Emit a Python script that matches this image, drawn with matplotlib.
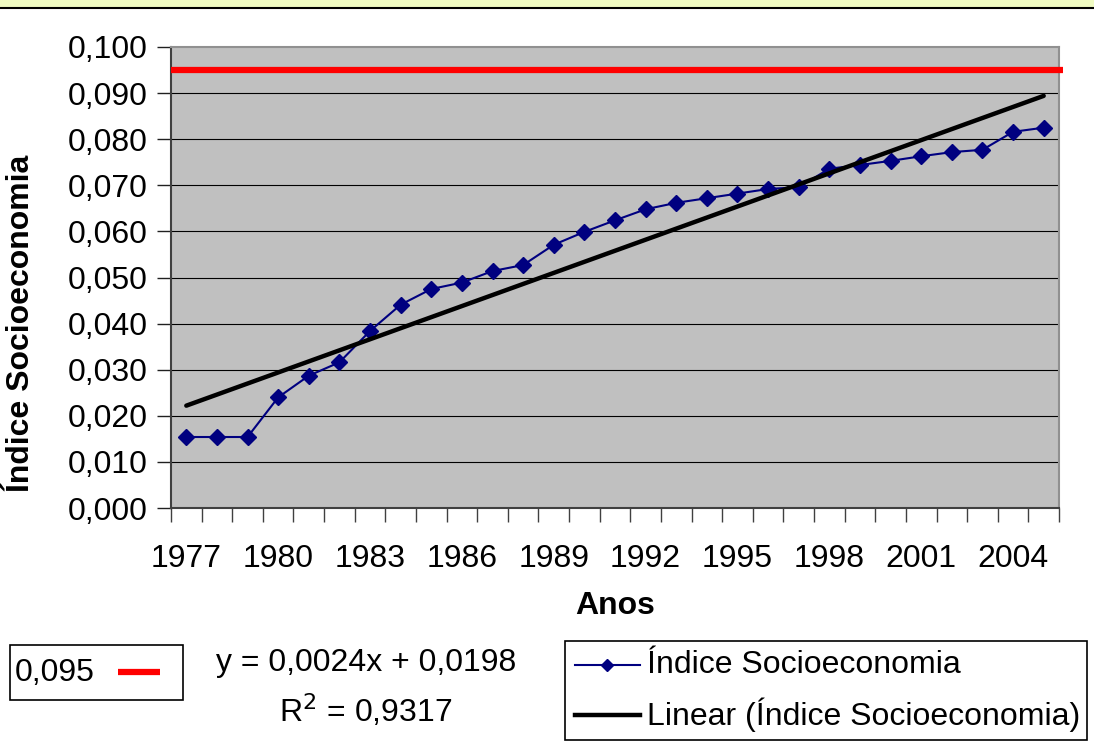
import matplotlib
matplotlib.use("Agg")
import matplotlib.pyplot as plt
import numpy as np
from matplotlib.patches import Rectangle
from matplotlib.lines import Line2D

plt.rcParams['font.family'] = ['Liberation Sans', 'DejaVu Sans']

years = list(range(1977, 2006))
indice = [0.0154, 0.0154, 0.0154, 0.0240, 0.0287, 0.0316, 0.0384, 0.0441,
          0.0475, 0.0489, 0.0514, 0.0527, 0.0571, 0.0599, 0.0624, 0.0648,
          0.0662, 0.0672, 0.0682, 0.0692, 0.0696, 0.0736, 0.0744, 0.0753,
          0.0763, 0.0772, 0.0777, 0.0816, 0.0825]
trend_slope = 0.0024
trend_intercept = 0.0198
r2 = 0.9317
meta = 0.095
yticks = [0.0, 0.01, 0.02, 0.03, 0.04, 0.05, 0.06, 0.07, 0.08, 0.09, 0.10]

FS = 23
W, H = 1094, 746
fig = plt.figure(figsize=(W / 100, H / 100), dpi=100)
fig.patch.set_facecolor('white')

# top yellow band
fig.add_artist(Rectangle((0, 1 - 7.5 / H), 1, 7.5 / H, transform=fig.transFigure,
                         facecolor='#F0FBC2', edgecolor='none'))
fig.add_artist(Line2D([0, 1], [1 - 8 / H, 1 - 8 / H], transform=fig.transFigure,
                      color='black', lw=1.5))

L, R, T, B = 171, 1059, 47, 508
ax = fig.add_axes([L / W, 1 - B / H, (R - L) / W, (B - T) / H])
ax.set_facecolor('#C0C0C0')

n = len(years)
x = np.arange(n)
ax.set_xlim(-0.5, n - 0.5)
ax.set_ylim(0, 0.1)

for yv in yticks[1:-1]:
    ax.axhline(yv, color='black', lw=0.8, zorder=1)

ax.plot(x, indice, color='#000080', lw=1.5, marker='D', markersize=8.5,
        markerfacecolor='#000080', markeredgecolor='#000080', zorder=3)
xi = np.arange(1, n + 1)
ax.plot(x, trend_slope * xi + trend_intercept, color='black', lw=3.2,
        solid_capstyle='round', zorder=4)
ax.axhline(meta, xmin=0, xmax=1.004, color='#FF0000', lw=4.5, clip_on=False,
           solid_capstyle='butt', zorder=5)

ax.set_yticks(yticks)
ax.set_yticklabels([f"{v:.3f}".replace('.', ',') for v in yticks], fontsize=FS)
ax.set_xticks(x[::3])
ax.set_xticklabels([str(years[i]) for i in range(0, n, 3)], fontsize=FS)
ax.tick_params(axis='x', which='major', length=0, pad=26)
ax.set_xticks(np.arange(-0.5, n, 1), minor=True)
ax.tick_params(axis='x', which='minor', length=10, width=1, color='#404040', direction='out')
ax.tick_params(axis='y', length=10, width=1, color='#202020', direction='out', pad=7)

for s in ['top', 'right']:
    ax.spines[s].set_color('#909090')
    ax.spines[s].set_linewidth(1.5)
for s in ['left', 'bottom']:
    ax.spines[s].set_color('#404040')
    ax.spines[s].set_linewidth(1.5)

ax.set_xlabel('Anos', fontsize=FS, fontweight='bold', labelpad=12)
ax.set_ylabel('Índice Socioeconomia', fontsize=23, fontweight='bold')
ax.yaxis.set_label_coords(-(L - 36) / (R - L), (B - (152 + 495) / 2) / (B - T))

def fx(px):
    return px / W

def fy(py):
    return 1 - py / H

# bottom box with 0,095
fig.add_artist(Rectangle((fx(10), fy(700)), fx(183) - fx(10), fy(645) - fy(700),
                         transform=fig.transFigure, facecolor='white', edgecolor='black', lw=1.2))
fig.text(fx(15), fy(673), f"{meta:.3f}".replace('.', ','), fontsize=FS, va='center', ha='left')
fig.add_artist(Line2D([fx(118), fx(160)], [fy(672), fy(672)], transform=fig.transFigure,
                      color='#FF0000', lw=4.5, solid_capstyle='butt'))

# equation
fig.text(fx(366), fy(663), f"y = {trend_slope:.4f}x + {trend_intercept:.4f}".replace('.', ','),
         fontsize=FS, ha='center', va='center')
fig.text(fx(366), fy(711), "R$^2$ = " + f"{r2:.4f}".replace('.', ','),
         fontsize=FS, ha='center', va='center')

# legend box
fig.add_artist(Rectangle((fx(565), fy(740)), fx(1087) - fx(565), fy(641) - fy(740),
                         transform=fig.transFigure, facecolor='white', edgecolor='black', lw=1.2))
fig.add_artist(Line2D([fx(575), fx(640)], [fy(665), fy(665)], transform=fig.transFigure,
                      color='#000080', lw=1.5))
fig.add_artist(Line2D([fx(607)], [fy(665)], transform=fig.transFigure, color='#000080',
                      lw=0, marker='D', markersize=6, markerfacecolor='#000080'))
fig.text(fx(647), fy(665), 'Índice Socioeconomia', fontsize=FS, ha='left', va='center')
fig.add_artist(Line2D([fx(575), fx(640)], [fy(715), fy(715)], transform=fig.transFigure,
                      color='black', lw=3.2))
fig.text(fx(647), fy(715), 'Linear (Índice Socioeconomia)', fontsize=FS, ha='left', va='center')

fig.savefig('out.png', dpi=100)
